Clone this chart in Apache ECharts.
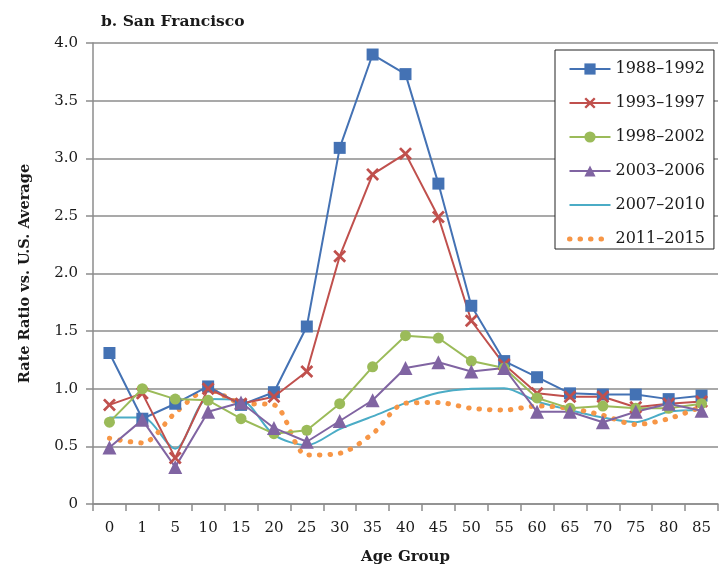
<!DOCTYPE html>
<html>
<head>
<meta charset="utf-8">
<title>San Francisco rate ratio by age group</title>
<script src="https://cdn.jsdelivr.net/npm/echarts@6/dist/echarts.min.js"></script>
<style>
  html, body { margin: 0; padding: 0; background: #fff; }
  #chart { width: 720px; height: 571px; }
</style>
</head>
<body>
<div id="chart"></div>
<script>
// Age groups along the x axis
const ageGroups = ['0', '1', '5', '10', '15', '20', '25', '30', '35', '40', '45', '50', '55', '60', '65', '70', '75', '80', '85'];

// Y tick values shown on the axis
const yTicks = [0, 0.5, 1.0, 1.5, 2.0, 2.5, 3.0, 3.5, 4.0];

// Rate ratio vs. U.S. average, one array per period
const p1988_1992 = [1.31, 0.74, 0.87, 1.02, 0.86, 0.97, 1.54, 3.09, 3.90, 3.73, 2.78, 1.72, 1.24, 1.10, 0.96, 0.95, 0.95, 0.91, 0.94];
const p1993_1997 = [0.86, 0.96, 0.40, 1.00, 0.87, 0.93, 1.15, 2.15, 2.86, 3.04, 2.49, 1.59, 1.21, 0.96, 0.93, 0.93, 0.84, 0.87, 0.89];
const p1998_2002 = [0.71, 1.00, 0.91, 0.90, 0.74, 0.61, 0.64, 0.87, 1.19, 1.46, 1.44, 1.24, 1.18, 0.92, 0.83, 0.85, 0.83, 0.83, 0.87];
const p2003_2006 = [0.49, 0.73, 0.32, 0.80, 0.88, 0.66, 0.54, 0.72, 0.90, 1.18, 1.23, 1.15, 1.18, 0.80, 0.80, 0.71, 0.80, 0.87, 0.81];
const p2007_2010 = [0.75, 0.75, 0.48, 0.91, 0.90, 0.60, 0.51, 0.65, 0.76, 0.875, 0.965, 1.00, 1.005, 0.89, 0.815, 0.75, 0.71, 0.80, 0.815];
const p2011_2015 = [0.57, 0.53, 0.79, 0.99, 0.875, 0.86, 0.425, 0.44, 0.61, 0.875, 0.88, 0.83, 0.815, 0.85, 0.83, 0.77, 0.69, 0.74, 0.845];

const periodNames = ['1988\u20131992', '1993\u20131997', '1998\u20132002', '2003\u20132006', '2007\u20132010', '2011\u20132015'];

const serifFont = '"DejaVu Serif", "Liberation Serif", serif';
const gridGray = '#8c8c8c';
const textColor = '#1a1a1a';

const colors = ['#4472b4', '#c0504d', '#9bbb59', '#8064a2', '#4bacc6', '#f79646'];

// Thin diagonal cross marker
const crossPath = 'path://M1.5,0 L5,3.5 L8.5,0 L10,1.5 L6.5,5 L10,8.5 L8.5,10 L5,6.5 L1.5,10 L0,8.5 L3.5,5 L0,1.5 Z';

// Dotted style used by the most recent period
const dotStyle = { color: colors[5], width: 5, type: [0.5, 10], cap: 'round' };

function markerSeries(name, data, color, symbol, size) {
  return {
    name: name,
    type: 'line',
    data: data,
    symbol: symbol,
    symbolSize: size,
    lineStyle: { color: color, width: 2 },
    itemStyle: { color: color },
    emphasis: { disabled: true },
    z: 3
  };
}

const chart = echarts.init(document.getElementById('chart'), null, { renderer: 'canvas' });

chart.setOption({
  animation: false,
  backgroundColor: '#fff',
  title: {
    text: 'b. San Francisco',
    left: 96,
    top: 9,
    textStyle: { fontFamily: serifFont, fontWeight: 'bold', fontSize: 15.5, color: textColor }
  },
  grid: { left: 93, right: 2, top: 43, bottom: 67, containLabel: false },
  legend: {
    orient: 'vertical',
    left: 555,
    top: 50,
    padding: [11, 9, 2, 12],
    itemWidth: 41,
    itemHeight: 14,
    itemGap: 18,
    backgroundColor: '#fff',
    borderColor: '#222',
    borderWidth: 1,
    borderRadius: 0,
    data: [
      periodNames[0],
      periodNames[1],
      periodNames[2],
      periodNames[3],
      { name: periodNames[4], itemStyle: { opacity: 0 }, lineStyle: { color: colors[4], width: 2 } },
      { name: periodNames[5], itemStyle: { opacity: 0 }, lineStyle: dotStyle }
    ],
    textStyle: { fontFamily: serifFont, fontSize: 16, color: textColor }
  },
  xAxis: {
    type: 'category',
    data: ageGroups,
    boundaryGap: true,
    name: 'Age Group',
    nameLocation: 'middle',
    nameGap: 46,
    nameTextStyle: { fontFamily: serifFont, fontWeight: 'bold', fontSize: 15, color: textColor },
    axisLine: { show: true, lineStyle: { color: gridGray, width: 1.5 } },
    axisTick: { show: true, length: 7, alignWithLabel: false, lineStyle: { color: gridGray, width: 1.5 } },
    axisLabel: { margin: 17, fontFamily: serifFont, fontSize: 15, color: textColor },
    splitLine: { show: false }
  },
  yAxis: {
    type: 'value',
    min: yTicks[0],
    max: yTicks[yTicks.length - 1],
    interval: 0.5,
    name: 'Rate Ratio vs. U.S. Average',
    nameLocation: 'middle',
    nameGap: 60,
    nameTextStyle: { fontFamily: serifFont, fontWeight: 'bold', fontSize: 14.5, color: textColor },
    axisLine: { show: true, lineStyle: { color: gridGray, width: 1.5 } },
    axisTick: { show: true, length: 7, lineStyle: { color: gridGray, width: 1.5 } },
    axisLabel: {
      margin: 15,
      fontFamily: serifFont,
      fontSize: 15,
      color: textColor,
      formatter: v => (v === 0 ? '0' : v.toFixed(1))
    },
    splitLine: { show: true, lineStyle: { color: gridGray, width: 1.5 } }
  },
  series: [
    markerSeries(periodNames[0], p1988_1992, colors[0], 'rect', 12),
    markerSeries(periodNames[1], p1993_1997, colors[1], crossPath, 13),
    markerSeries(periodNames[2], p1998_2002, colors[2], 'circle', 11),
    markerSeries(periodNames[3], p2003_2006, colors[3], 'triangle', 14),
    {
      name: periodNames[4],
      type: 'line',
      data: p2007_2010,
      symbol: 'none',
      smooth: 0.3,
      lineStyle: { color: colors[4], width: 2 },
      itemStyle: { color: colors[4] },
      emphasis: { disabled: true },
      z: 2
    },
    {
      name: periodNames[5],
      type: 'line',
      data: p2011_2015,
      symbol: 'none',
      smooth: 0.3,
      lineStyle: dotStyle,
      itemStyle: { color: colors[5] },
      emphasis: { disabled: true },
      z: 2
    }
  ]
});
</script>
</body>
</html>
